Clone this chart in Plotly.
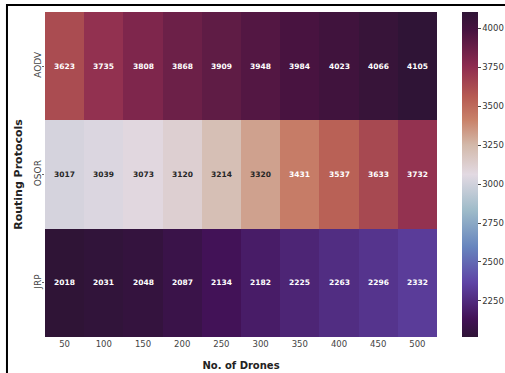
import plotly.graph_objects as go
from plotly.colors import sample_colorscale, hex_to_rgb

drones = [50, 100, 150, 200, 250, 300, 350, 400, 450, 500]
protocols = ["AODV", "OSOR", "JRP"]
aodv = [3623, 3735, 3808, 3868, 3909, 3948, 3984, 4023, 4066, 4105]
osor = [3017, 3039, 3073, 3120, 3214, 3320, 3431, 3537, 3633, 3732]
jrp = [2018, 2031, 2048, 2087, 2134, 2182, 2225, 2263, 2296, 2332]
cbar_ticks = [2250, 2500, 2750, 3000, 3250, 3500, 3750, 4000]

z = [aodv, osor, jrp]
zmin = min(min(r) for r in z)
zmax = max(max(r) for r in z)

# twilight_shifted-style cyclic scale: dark -> purple -> blue -> white -> tan -> red -> dark
twilight_shifted = [
    [0.000, "#2f1436"],
    [0.056, "#421257"],
    [0.167, "#5e43a5"],
    [0.278, "#6785be"],
    [0.389, "#9ebbc9"],
    [0.500, "#e2d9e2"],
    [0.590, "#d3b9aa"],
    [0.667, "#c9826a"],
    [0.740, "#b65a52"],
    [0.833, "#8e2c50"],
    [0.944, "#471340"],
    [1.000, "#2f1436"],
]

xi = list(range(len(drones)))
yi = list(range(len(protocols)))

fig = go.Figure(
    go.Heatmap(
        z=z,
        x=xi,
        y=yi,
        zmin=zmin,
        zmax=zmax,
        colorscale=twilight_shifted,
        colorbar=dict(
            x=1.064,
            xanchor="left",
            xpad=0,
            y=0.5,
            yanchor="middle",
            ypad=0,
            len=1.0,
            lenmode="fraction",
            thickness=16,
            outlinewidth=0,
            tickvals=cbar_ticks,
            ticks="outside",
            ticklen=3,
            tickcolor="#444",
            tickfont=dict(family="DejaVu Sans", size=8.5, color="#333"),
        ),
        hoverinfo="skip",
    )
)


def luminance(color):
    if color.startswith("#"):
        r, g, b = hex_to_rgb(color)
    else:
        r, g, b = [float(v) for v in color[color.index("(") + 1:color.index(")")].split(",")[:3]]
    return (0.299 * r + 0.587 * g + 0.114 * b) / 255


annotations = []
for j, row in enumerate(z):
    for i, v in enumerate(row):
        c = sample_colorscale(twilight_shifted, (v - zmin) / (zmax - zmin))[0]
        txt_color = "#262626" if luminance(c) > 0.62 else "white"
        annotations.append(
            dict(
                x=i, y=j, text=f"<b>{v}</b>", showarrow=False,
                font=dict(family="DejaVu Sans", size=7.5, color=txt_color),
            )
        )

fig.update_layout(
    width=505,
    height=373,
    margin=dict(l=45, r=68, t=12, b=36, autoexpand=False),
    paper_bgcolor="white",
    plot_bgcolor="white",
    annotations=annotations,
    xaxis=dict(
        range=[-0.5, len(drones) - 0.5],
        tickvals=xi,
        ticktext=[str(d) for d in drones],
        title=dict(text="<b>No. of Drones</b>", font=dict(family="DejaVu Sans", size=10, color="#222"), standoff=14),
        tickfont=dict(family="DejaVu Sans", size=8.5, color="#444"),
        ticks="",
        showgrid=False, zeroline=False, showline=False,
    ),
    yaxis=dict(
        range=[len(protocols) - 0.5, -0.5],
        tickvals=yi,
        ticktext=protocols,
        title=dict(text="<b>Routing Protocols</b>", font=dict(family="DejaVu Sans", size=11, color="#222"), standoff=8),
        tickfont=dict(family="DejaVu Sans", size=9, color="#444"),
        tickangle=-90,
        ticks="outside", ticklen=2, tickcolor="#666",
        ticklabelstandoff=-3,
        showgrid=False, zeroline=False, showline=False,
    ),
    shapes=[
        dict(
            type="rect", xref="paper", yref="paper",
            x0=-0.097, x1=1.25, y0=-0.2, y1=1.0215,
            line=dict(color="black", width=2), fillcolor="rgba(0,0,0,0)",
            layer="above",
        )
    ],
)

fig.write_html("out.html")
